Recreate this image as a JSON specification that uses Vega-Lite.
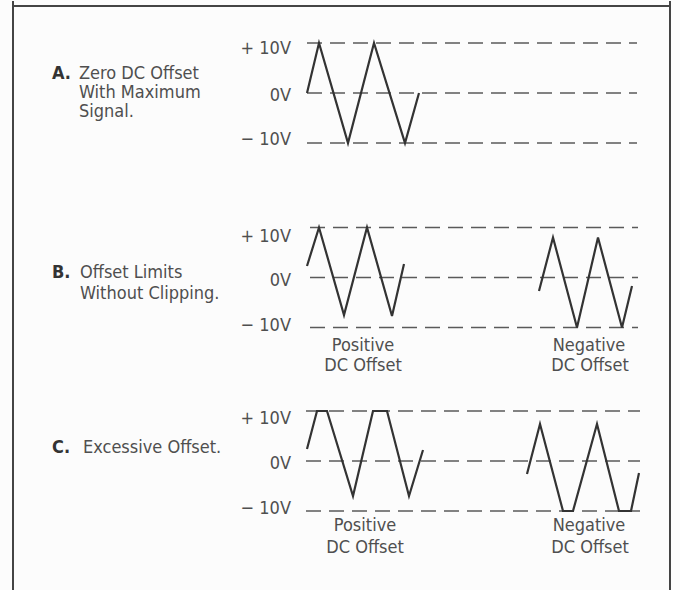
{
  "$schema": "https://vega.github.io/schema/vega-lite/v6.json",
  "background": "#fcfcfc",
  "padding": 0,
  "spacing": 0,
  "bounds": "flush",
  "config": {
    "view": {"stroke": null},
    "text": {"font": "Liberation Sans Narrow, DejaVu Sans Condensed, sans-serif", "fontSize": 18, "color": "#4f4f4f", "baseline": "middle"}
  },
  "datasets": {
    "waves": [
      {"panel": "A", "series": "zero", "t": 307, "v": 0},
      {"panel": "A", "series": "zero", "t": 319, "v": 10},
      {"panel": "A", "series": "zero", "t": 348, "v": -10},
      {"panel": "A", "series": "zero", "t": 374, "v": 10},
      {"panel": "A", "series": "zero", "t": 405, "v": -10},
      {"panel": "A", "series": "zero", "t": 419, "v": 0},
      {"panel": "B", "series": "pos", "t": 307, "v": 2.3},
      {"panel": "B", "series": "pos", "t": 319, "v": 10},
      {"panel": "B", "series": "pos", "t": 344, "v": -7.5},
      {"panel": "B", "series": "pos", "t": 367, "v": 10},
      {"panel": "B", "series": "pos", "t": 392, "v": -7.7},
      {"panel": "B", "series": "pos", "t": 404, "v": 2.7},
      {"panel": "B", "series": "neg", "t": 539, "v": -2.7},
      {"panel": "B", "series": "neg", "t": 553, "v": 8},
      {"panel": "B", "series": "neg", "t": 577, "v": -10},
      {"panel": "B", "series": "neg", "t": 598, "v": 8},
      {"panel": "B", "series": "neg", "t": 622, "v": -10},
      {"panel": "B", "series": "neg", "t": 632, "v": -1.7},
      {"panel": "C", "series": "pos", "t": 307, "v": 2.4},
      {"panel": "C", "series": "pos", "t": 317, "v": 10},
      {"panel": "C", "series": "pos", "t": 327, "v": 10},
      {"panel": "C", "series": "pos", "t": 353, "v": -7},
      {"panel": "C", "series": "pos", "t": 373, "v": 10},
      {"panel": "C", "series": "pos", "t": 387, "v": 10},
      {"panel": "C", "series": "pos", "t": 409, "v": -7},
      {"panel": "C", "series": "pos", "t": 423, "v": 2.2},
      {"panel": "C", "series": "neg", "t": 527, "v": -2.6},
      {"panel": "C", "series": "neg", "t": 540, "v": 7.4},
      {"panel": "C", "series": "neg", "t": 563, "v": -10},
      {"panel": "C", "series": "neg", "t": 573, "v": -10},
      {"panel": "C", "series": "neg", "t": 597, "v": 7.4},
      {"panel": "C", "series": "neg", "t": 619, "v": -10},
      {"panel": "C", "series": "neg", "t": 631, "v": -10},
      {"panel": "C", "series": "neg", "t": 639, "v": -2.4}
    ],
    "levels": [
      {"panel": "A", "v": 10, "t0": 307, "t1": 637},
      {"panel": "A", "v": 0, "t0": 307, "t1": 637},
      {"panel": "A", "v": -10, "t0": 307, "t1": 637},
      {"panel": "B", "v": 10, "t0": 310, "t1": 638},
      {"panel": "B", "v": 0, "t0": 310, "t1": 638},
      {"panel": "B", "v": -10, "t0": 310, "t1": 638},
      {"panel": "C", "v": 10, "t0": 306, "t1": 640},
      {"panel": "C", "v": 0, "t0": 306, "t1": 640},
      {"panel": "C", "v": -10, "t0": 306, "t1": 640}
    ],
    "vlabels": [
      {"panel": "A", "label": "+ 10V", "t": 291, "v": 8.8},
      {"panel": "A", "label": "0V", "t": 291, "v": -0.6},
      {"panel": "A", "label": "− 10V", "t": 291, "v": -9.4},
      {"panel": "B", "label": "+ 10V", "t": 291, "v": 8.1},
      {"panel": "B", "label": "0V", "t": 291, "v": -0.7},
      {"panel": "B", "label": "− 10V", "t": 291, "v": -9.7},
      {"panel": "C", "label": "+ 10V", "t": 291, "v": 8.4},
      {"panel": "C", "label": "0V", "t": 291, "v": -0.6},
      {"panel": "C", "label": "− 10V", "t": 291, "v": -9.6}
    ],
    "letters": [
      {"panel": "A", "label": "A.", "t": 52, "v": 3.8},
      {"panel": "B", "label": "B.", "t": 52, "v": 0.9},
      {"panel": "C", "label": "C.", "t": 52, "v": 2.6}
    ],
    "desc": [
      {"panel": "A", "label": "Zero DC Offset", "t": 79, "v": 3.8},
      {"panel": "A", "label": "With Maximum", "t": 79, "v": 0},
      {"panel": "A", "label": "Signal.", "t": 79, "v": -3.8},
      {"panel": "B", "label": "Offset Limits", "t": 80, "v": 0.9},
      {"panel": "B", "label": "Without Clipping.", "t": 80, "v": -3.3},
      {"panel": "C", "label": "Excessive Offset.", "t": 83, "v": 2.6}
    ],
    "captions": [
      {"panel": "B", "label": "Positive", "t": 363, "v": -13.7},
      {"panel": "B", "label": "DC Offset", "t": 363, "v": -17.7},
      {"panel": "B", "label": "Negative", "t": 589, "v": -13.7},
      {"panel": "B", "label": "DC Offset", "t": 590, "v": -17.7},
      {"panel": "C", "label": "Positive", "t": 365, "v": -13},
      {"panel": "C", "label": "DC Offset", "t": 365, "v": -17.4},
      {"panel": "C", "label": "Negative", "t": 589, "v": -13},
      {"panel": "C", "label": "DC Offset", "t": 590, "v": -17.4}
    ],
    "frame": [
      {"t": 13},
      {"t": 670}
    ],
    "frametop": [
      {"t0": 13, "t1": 670, "v": 17.4}
    ]
  },
  "vconcat": [
    {
      "width": 680, "height": 190,
      "layer": [
        {"data": {"name": "frame"}, "mark": {"type": "rule", "color": "#444", "strokeWidth": 2},
         "encoding": {"x": {"field": "t", "type": "quantitative", "scale": {"domain": [0, 680], "nice": false, "zero": false}, "axis": null}}},
        {"data": {"name": "frametop"}, "mark": {"type": "rule", "color": "#444", "strokeWidth": 2},
         "encoding": {"x": {"field": "t0", "type": "quantitative", "scale": {"domain": [0, 680], "nice": false, "zero": false}, "axis": null}, "x2": {"field": "t1"},
                      "y": {"field": "v", "type": "quantitative", "scale": {"domain": [-19.6, 18.4], "nice": false, "zero": false}, "axis": null}}},
        {"data": {"name": "levels"}, "transform": [{"filter": "datum.panel === 'A'"}],
         "mark": {"type": "rule", "color": "#5a5a5a", "strokeWidth": 1.7, "strokeDash": [15, 8]},
         "encoding": {"x": {"field": "t0", "type": "quantitative"}, "x2": {"field": "t1"}, "y": {"field": "v", "type": "quantitative"}}},
        {"data": {"name": "waves"}, "transform": [{"filter": "datum.panel === 'A'"}],
         "mark": {"type": "line", "color": "#333", "strokeWidth": 2.2},
         "encoding": {"x": {"field": "t", "type": "quantitative"}, "y": {"field": "v", "type": "quantitative"}, "detail": {"field": "series"}}},
        {"data": {"name": "vlabels"}, "transform": [{"filter": "datum.panel === 'A'"}],
         "mark": {"type": "text", "align": "right"},
         "encoding": {"x": {"field": "t", "type": "quantitative"}, "y": {"field": "v", "type": "quantitative"}, "text": {"field": "label"}}},
        {"data": {"name": "letters"}, "transform": [{"filter": "datum.panel === 'A'"}],
         "mark": {"type": "text", "align": "left", "fontWeight": "bold", "color": "#333"},
         "encoding": {"x": {"field": "t", "type": "quantitative"}, "y": {"field": "v", "type": "quantitative"}, "text": {"field": "label"}}},
        {"data": {"name": "desc"}, "transform": [{"filter": "datum.panel === 'A'"}],
         "mark": {"type": "text", "align": "left"},
         "encoding": {"x": {"field": "t", "type": "quantitative"}, "y": {"field": "v", "type": "quantitative"}, "text": {"field": "label"}}}
      ]
    },
    {
      "width": 680, "height": 185,
      "layer": [
        {"data": {"name": "frame"}, "mark": {"type": "rule", "color": "#444", "strokeWidth": 2},
         "encoding": {"x": {"field": "t", "type": "quantitative", "scale": {"domain": [0, 680], "nice": false, "zero": false}, "axis": null}}},
        {"data": {"name": "levels"}, "transform": [{"filter": "datum.panel === 'B'"}],
         "mark": {"type": "rule", "color": "#5a5a5a", "strokeWidth": 1.7, "strokeDash": [15, 8]},
         "encoding": {"x": {"field": "t0", "type": "quantitative", "axis": null}, "x2": {"field": "t1"},
                      "y": {"field": "v", "type": "quantitative", "scale": {"domain": [-19.7, 17.3], "nice": false, "zero": false}, "axis": null}}},
        {"data": {"name": "waves"}, "transform": [{"filter": "datum.panel === 'B'"}],
         "mark": {"type": "line", "color": "#333", "strokeWidth": 2.2},
         "encoding": {"x": {"field": "t", "type": "quantitative"}, "y": {"field": "v", "type": "quantitative"}, "detail": {"field": "series"}}},
        {"data": {"name": "vlabels"}, "transform": [{"filter": "datum.panel === 'B'"}],
         "mark": {"type": "text", "align": "right"},
         "encoding": {"x": {"field": "t", "type": "quantitative"}, "y": {"field": "v", "type": "quantitative"}, "text": {"field": "label"}}},
        {"data": {"name": "letters"}, "transform": [{"filter": "datum.panel === 'B'"}],
         "mark": {"type": "text", "align": "left", "fontWeight": "bold", "color": "#333"},
         "encoding": {"x": {"field": "t", "type": "quantitative"}, "y": {"field": "v", "type": "quantitative"}, "text": {"field": "label"}}},
        {"data": {"name": "desc"}, "transform": [{"filter": "datum.panel === 'B'"}],
         "mark": {"type": "text", "align": "left"},
         "encoding": {"x": {"field": "t", "type": "quantitative"}, "y": {"field": "v", "type": "quantitative"}, "text": {"field": "label"}}},
        {"data": {"name": "captions"}, "transform": [{"filter": "datum.panel === 'B'"}],
         "mark": {"type": "text", "align": "center"},
         "encoding": {"x": {"field": "t", "type": "quantitative"}, "y": {"field": "v", "type": "quantitative"}, "text": {"field": "label"}}}
      ]
    },
    {
      "width": 680, "height": 215,
      "layer": [
        {"data": {"name": "frame"}, "mark": {"type": "rule", "color": "#444", "strokeWidth": 2},
         "encoding": {"x": {"field": "t", "type": "quantitative", "scale": {"domain": [0, 680], "nice": false, "zero": false}, "axis": null}}},
        {"data": {"name": "levels"}, "transform": [{"filter": "datum.panel === 'C'"}],
         "mark": {"type": "rule", "color": "#5a5a5a", "strokeWidth": 1.7, "strokeDash": [15, 8]},
         "encoding": {"x": {"field": "t0", "type": "quantitative", "axis": null}, "x2": {"field": "t1"},
                      "y": {"field": "v", "type": "quantitative", "scale": {"domain": [-26, 17], "nice": false, "zero": false}, "axis": null}}},
        {"data": {"name": "waves"}, "transform": [{"filter": "datum.panel === 'C'"}],
         "mark": {"type": "line", "color": "#333", "strokeWidth": 2.2},
         "encoding": {"x": {"field": "t", "type": "quantitative"}, "y": {"field": "v", "type": "quantitative"}, "detail": {"field": "series"}}},
        {"data": {"name": "vlabels"}, "transform": [{"filter": "datum.panel === 'C'"}],
         "mark": {"type": "text", "align": "right"},
         "encoding": {"x": {"field": "t", "type": "quantitative"}, "y": {"field": "v", "type": "quantitative"}, "text": {"field": "label"}}},
        {"data": {"name": "letters"}, "transform": [{"filter": "datum.panel === 'C'"}],
         "mark": {"type": "text", "align": "left", "fontWeight": "bold", "color": "#333"},
         "encoding": {"x": {"field": "t", "type": "quantitative"}, "y": {"field": "v", "type": "quantitative"}, "text": {"field": "label"}}},
        {"data": {"name": "desc"}, "transform": [{"filter": "datum.panel === 'C'"}],
         "mark": {"type": "text", "align": "left"},
         "encoding": {"x": {"field": "t", "type": "quantitative"}, "y": {"field": "v", "type": "quantitative"}, "text": {"field": "label"}}},
        {"data": {"name": "captions"}, "transform": [{"filter": "datum.panel === 'C'"}],
         "mark": {"type": "text", "align": "center"},
         "encoding": {"x": {"field": "t", "type": "quantitative"}, "y": {"field": "v", "type": "quantitative"}, "text": {"field": "label"}}}
      ]
    }
  ]
}
